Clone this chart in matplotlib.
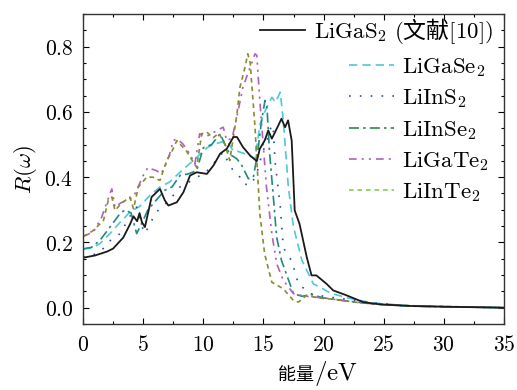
import matplotlib
matplotlib.use("Agg")
import matplotlib.pyplot as plt
from matplotlib.lines import Line2D
from matplotlib.ticker import MultipleLocator, FuncFormatter

plt.rcParams['mathtext.fontset'] = 'cm'
plt.rcParams['font.family'] = ['Noto Sans CJK SC', 'DejaVu Sans']

# ---------------- data ----------------
E_LiGaS2 = [0, 1.0, 2.0, 2.5, 3.35, 3.9, 4.2, 4.5, 4.7, 4.9, 5.15,
            5.7, 6.4, 6.8, 7.1, 7.8, 8.35, 8.9, 9.45, 10.3, 10.85,
            11.4, 11.95, 12.5, 12.8, 13.3, 13.9, 14.45, 14.7, 15.1, 15.4,
            15.7, 16.1, 16.5, 16.8, 17.05, 17.35, 17.6, 18.0, 18.6, 19.0,
            19.4, 20.25, 20.8, 21.9, 23.3, 24.7, 27.4, 30, 35]
R_LiGaS2 = [0.153, 0.16, 0.172, 0.181, 0.215, 0.255, 0.28, 0.265, 0.29, 0.262, 0.247,
            0.339, 0.364, 0.329, 0.313, 0.323, 0.354, 0.405, 0.415, 0.41, 0.436,
            0.472, 0.487, 0.523, 0.523, 0.492, 0.466, 0.449, 0.487, 0.512, 0.543,
            0.518, 0.548, 0.579, 0.553, 0.574, 0.512, 0.298, 0.257, 0.155, 0.099,
            0.099, 0.073, 0.053, 0.038, 0.017, 0.01, 0.005, 0.003, 0.0]

E_LiGaSe2 = [0, 0.7, 1.4, 2.24, 3.1, 3.9, 4.7, 5.57, 6.4, 7.2,
             8.06, 9.17, 10.3, 10.8, 11.95, 12.5, 12.8, 13.6, 14.3, 14.7,
             15.1, 15.7, 16.0, 16.4, 16.65, 17.07, 17.5, 18.2, 19.15, 19.7,
             20.4, 21, 22, 24, 27, 30, 35]
R_LiGaSe2 = [0.18, 0.183, 0.196, 0.227, 0.262, 0.293, 0.31, 0.344, 0.37, 0.385,
             0.415, 0.451, 0.49, 0.50, 0.512, 0.48, 0.48, 0.47, 0.456, 0.56,
             0.60, 0.645, 0.63, 0.66, 0.574, 0.37, 0.247, 0.145, 0.073, 0.063,
             0.048, 0.04, 0.03, 0.015, 0.006, 0.003, 0.0]

E_LiInS2 = [0, 0.7, 1.4, 2.4, 3.1, 3.4, 3.9, 4.46, 4.9, 5.15,
            5.6, 6.1, 6.6, 7.2, 8.06, 8.6, 9.45, 10.1, 10.8, 11.66,
            12.2, 12.5, 13.05, 13.3, 13.9, 14.4, 14.8, 15.27, 15.6, 15.8,
            15.96, 16.4, 16.65, 17.0, 17.35, 17.9, 18.9, 20, 22, 24,
            27, 30, 35]
R_LiInS2 = [0.155, 0.16, 0.17, 0.211, 0.227, 0.247, 0.28, 0.308, 0.25, 0.227,
            0.26, 0.293, 0.31, 0.33, 0.37, 0.38, 0.40, 0.41, 0.44, 0.477,
            0.436, 0.42, 0.40, 0.38, 0.375, 0.405, 0.46, 0.512, 0.55, 0.56,
            0.45, 0.31, 0.186, 0.16, 0.145, 0.073, 0.043, 0.035, 0.025, 0.015,
            0.006, 0.003, 0.0]

E_LiInSe2 = [0, 0.7, 1.4, 2.2, 3.07, 3.5, 4.0, 4.46, 4.9, 5.4,
             6.1, 6.8, 7.4, 8.06, 8.75, 9.45, 10.0, 10.7, 11.4, 11.66,
             12.2, 12.8, 13.2, 13.75, 14.16, 14.5, 14.85, 15.13, 15.3, 15.5,
             15.8, 16.1, 16.5, 16.9, 17.5, 18.2, 19, 20, 22, 24,
             27, 30, 35]
R_LiInSe2 = [0.18, 0.185, 0.206, 0.245, 0.288, 0.30, 0.29, 0.227, 0.26, 0.30,
             0.33, 0.36, 0.37, 0.405, 0.41, 0.42, 0.49, 0.50, 0.533, 0.512,
             0.47, 0.456, 0.436, 0.395, 0.40, 0.47, 0.574, 0.635, 0.61, 0.48,
             0.35, 0.216, 0.145, 0.104, 0.043, 0.035, 0.04, 0.03, 0.02, 0.012,
             0.005, 0.003, 0.0]

E_LiGaTe2 = [0, 0.86, 1.55, 2.24, 2.4, 2.66, 3.1, 3.6, 4.2, 4.7,
             5.0, 5.4, 5.7, 6.1, 6.5, 6.9, 7.2, 7.5, 7.8, 8.3,
             8.9, 9.3, 9.7, 10.2, 10.6, 11.1, 11.66, 11.95, 12.4, 12.9,
             13.3, 13.9, 14.3, 14.45, 14.7, 15.25, 15.7, 16.1, 16.65, 17.5,
             18.5, 20, 22, 24, 27, 30, 35]
R_LiGaTe2 = [0.218, 0.232, 0.277, 0.35, 0.364, 0.308, 0.32, 0.329, 0.34, 0.38,
             0.405, 0.43, 0.425, 0.42, 0.41, 0.44, 0.47, 0.512, 0.517, 0.502,
             0.47, 0.44, 0.533, 0.525, 0.53, 0.543, 0.553, 0.512, 0.52, 0.604,
             0.676, 0.737, 0.778, 0.773, 0.635, 0.37, 0.227, 0.135, 0.084, 0.043,
             0.035, 0.03, 0.02, 0.012, 0.005, 0.003, 0.0]

E_LiInTe2 = [0, 0.8, 1.7, 2.1, 2.4, 2.66, 3.2, 3.9, 4.2, 4.6,
             5.3, 5.8, 6.4, 6.96, 7.37, 7.8, 8.6, 9.1, 9.45, 9.87,
             10.3, 10.8, 11.3, 11.8, 12.2, 12.8, 13.05, 13.47, 13.7, 13.9,
             14.3, 14.7, 15.1, 15.7, 16.65, 17.5, 17.9, 18.6, 19.5, 21,
             23, 25, 28, 31, 35]
R_LiInTe2 = [0.218, 0.235, 0.267, 0.329, 0.339, 0.298, 0.32, 0.339, 0.303, 0.37,
             0.40, 0.40, 0.39, 0.451, 0.477, 0.512, 0.48, 0.45, 0.43, 0.533,
             0.538, 0.52, 0.535, 0.50, 0.451, 0.594, 0.676, 0.737, 0.778, 0.75,
             0.553, 0.288, 0.165, 0.078, 0.058, 0.022, 0.017, 0.038, 0.03, 0.025,
             0.015, 0.01, 0.005, 0.003, 0.0]

labels = [r'$\mathrm{LiGaSe_2}$', r'$\mathrm{LiInS_2}$', r'$\mathrm{LiInSe_2}$',
          r'$\mathrm{LiGaTe_2}$', r'$\mathrm{LiInTe_2}$']
label_ref = r'$\mathrm{LiGaS_2\ (}$文献$\mathrm{[10])}$'

xticks = [0, 5, 10, 15, 20, 25, 30, 35]
yticks = [0.0, 0.2, 0.4, 0.6, 0.8]

# ---------------- styles ----------------
lw = 1.2
styles = [
    dict(color='#4ec9d6', ls=(0, (5, 3))),
    dict(color='#2050b8', ls=(0, (1, 5.5))),
    dict(color='#1f8a80', ls=(0, (6, 2.5, 1.5, 2.5))),
    dict(color='#b060c0', ls=(0, (4.6, 3, 1.3, 3, 1.3, 3))),
    dict(color='#8a8a30', ls=(0, (2.8, 2.3))),
]
legend_colors = ['#4ec9d6', '#2050b8', '#2e8b45', '#b060c0', '#80cf50']

fig = plt.figure(figsize=(5.17, 3.90), dpi=100)
ax = fig.add_axes([83/517, 1-324/390, 421/517, 310/390])

series = [(E_LiGaSe2, R_LiGaSe2), (E_LiInS2, R_LiInS2), (E_LiInSe2, R_LiInSe2),
          (E_LiGaTe2, R_LiGaTe2), (E_LiInTe2, R_LiInTe2)]
for (e, r), st in zip(series, styles):
    ax.plot(e, r, color=st['color'], linestyle=st['ls'], lw=lw)
ref_line, = ax.plot(E_LiGaS2, R_LiGaS2, color='#1a1a1a', lw=1.3, label=label_ref)

ax.set_xlim(0, 35)
ax.set_ylim(-0.05, 0.9)
ax.set_xticks(xticks)
ax.set_yticks(yticks)
ax.xaxis.set_minor_locator(MultipleLocator(2.5))
ax.yaxis.set_minor_locator(MultipleLocator(0.05))
ax.xaxis.set_major_formatter(FuncFormatter(lambda v, p: r'$%d$' % v))
ax.yaxis.set_major_formatter(FuncFormatter(lambda v, p: r'$%.1f$' % v))
ax.tick_params(which='both', direction='in', top=True, right=True, labelsize=15.5, width=0.8)
ax.tick_params(which='major', length=4.5, pad=7)
ax.tick_params(which='minor', length=2.5)
for s in ax.spines.values():
    s.set_linewidth(1.0)
    s.set_color('#333333')

# x label: CJK part and unit part
ax.text(0.548, -0.18, '能量', transform=ax.transAxes, ha='right', va='baseline', fontsize=13)
ax.text(0.548, -0.18, r'$/\mathrm{eV}$', transform=ax.transAxes, ha='left', va='baseline', fontsize=18)
ax.set_ylabel(r'$R(\omega)$', fontsize=16.5, labelpad=4)

leg1 = ax.legend(handles=[ref_line], loc='upper left', bbox_to_anchor=(0.42, 0.995),
                 frameon=False, fontsize=16.5, handlelength=1.95, handletextpad=0.42,
                 borderpad=0, borderaxespad=0)
ax.add_artist(leg1)
handles = [Line2D([], [], color=c, linestyle=st['ls'], lw=lw) for c, st in zip(legend_colors, styles)]
ax.legend(handles=handles, labels=labels, loc='upper left', bbox_to_anchor=(0.632, 0.868),
          frameon=False, fontsize=16.5, handlelength=1.95, handletextpad=0.35,
          labelspacing=0.32, borderpad=0, borderaxespad=0)

fig.savefig('out.png', dpi=100)
